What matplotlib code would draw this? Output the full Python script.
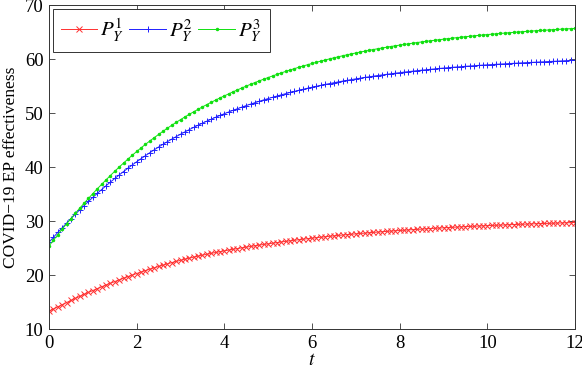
import numpy as np
import matplotlib
matplotlib.use("Agg")
import matplotlib.pyplot as plt

# time grid, step 0.1
t = np.linspace(0, 12, 121)

p_y1 = [
    13.30, 13.72, 14.13, 14.53, 14.92, 15.31, 15.69, 16.07, 16.44, 16.80,
    17.15, 17.50, 17.84, 18.17, 18.49, 18.81, 19.12, 19.43, 19.73, 20.02,
    20.30, 20.58, 20.85, 21.11, 21.36, 21.61, 21.85, 22.09, 22.32, 22.54,
    22.75, 22.95, 23.15, 23.34, 23.52, 23.70, 23.87, 24.04, 24.20, 24.35,
    24.50, 24.65, 24.79, 24.93, 25.06, 25.19, 25.32, 25.45, 25.57, 25.69,
    25.80, 25.92, 26.03, 26.15, 26.25, 26.36, 26.46, 26.57, 26.66, 26.76,
    26.85, 26.94, 27.03, 27.11, 27.20, 27.28, 27.36, 27.43, 27.51, 27.58,
    27.65, 27.72, 27.78, 27.86, 27.92, 27.98, 28.04, 28.10, 28.16, 28.22,
    28.27, 28.32, 28.38, 28.43, 28.48, 28.53, 28.58, 28.63, 28.68, 28.72,
    28.77, 28.81, 28.86, 28.90, 28.94, 28.98, 29.02, 29.06, 29.10, 29.13,
    29.17, 29.20, 29.24, 29.27, 29.30, 29.34, 29.37, 29.40, 29.43, 29.46,
    29.49, 29.52, 29.54, 29.57, 29.59, 29.62, 29.65, 29.67, 29.70, 29.72,
    29.75,
]

p_y2 = [
    26.10, 27.01, 27.90, 28.77, 29.62, 30.46, 31.28, 32.09, 32.88, 33.65,
    34.40, 35.13, 35.85, 36.55, 37.23, 37.90, 38.55, 39.19, 39.81, 40.41,
    41.00, 41.57, 42.13, 42.68, 43.21, 43.73, 44.23, 44.72, 45.19, 45.65,
    46.10, 46.53, 46.95, 47.36, 47.76, 48.14, 48.52, 48.88, 49.23, 49.57,
    49.90, 50.22, 50.53, 50.83, 51.12, 51.41, 51.68, 51.95, 52.21, 52.46,
    52.70, 52.94, 53.17, 53.40, 53.61, 53.83, 54.03, 54.24, 54.43, 54.62,
    54.80, 54.98, 55.15, 55.32, 55.48, 55.64, 55.79, 55.94, 56.08, 56.22,
    56.35, 56.48, 56.61, 56.73, 56.85, 56.97, 57.08, 57.19, 57.30, 57.40,
    57.50, 57.60, 57.69, 57.78, 57.87, 57.96, 58.04, 58.12, 58.20, 58.28,
    58.35, 58.42, 58.49, 58.55, 58.61, 58.68, 58.73, 58.79, 58.85, 58.90,
    58.95, 59.00, 59.05, 59.10, 59.14, 59.19, 59.23, 59.28, 59.32, 59.36,
    59.40, 59.44, 59.48, 59.52, 59.56, 59.60, 59.64, 59.68, 59.72, 59.76,
    59.80,
]

p_y3 = [
    25.40, 26.46, 27.49, 28.51, 29.51, 30.49, 31.45, 32.39, 33.31, 34.22,
    35.10, 35.97, 36.81, 37.64, 38.45, 39.24, 40.01, 40.76, 41.49, 42.21,
    42.90, 43.57, 44.22, 44.85, 45.46, 46.06, 46.64, 47.21, 47.76, 48.29,
    48.80, 49.30, 49.78, 50.25, 50.71, 51.16, 51.59, 52.01, 52.42, 52.82,
    53.20, 53.58, 53.95, 54.31, 54.67, 55.01, 55.35, 55.67, 55.99, 56.30,
    56.60, 56.89, 57.18, 57.46, 57.73, 57.99, 58.25, 58.50, 58.74, 58.97,
    59.20, 59.42, 59.64, 59.85, 60.05, 60.25, 60.44, 60.63, 60.81, 60.98,
    61.15, 61.32, 61.47, 61.63, 61.78, 61.93, 62.07, 62.21, 62.34, 62.48,
    62.60, 62.72, 62.84, 62.96, 63.08, 63.19, 63.30, 63.40, 63.50, 63.60,
    63.70, 63.80, 63.89, 63.98, 64.07, 64.16, 64.24, 64.32, 64.40, 64.48,
    64.55, 64.63, 64.69, 64.77, 64.83, 64.90, 64.96, 65.03, 65.08, 65.15,
    65.20, 65.26, 65.31, 65.36, 65.41, 65.46, 65.51, 65.56, 65.61, 65.65,
    65.70,
]

labels = [r"$P_Y^1$", r"$P_Y^2$", r"$P_Y^3$"]
x_ticks = [0, 2, 4, 6, 8, 10, 12]
y_ticks = [10, 20, 30, 40, 50, 60, 70]

plt.rcParams["font.family"] = ["Liberation Serif", "DejaVu Serif"]
plt.rcParams["mathtext.fontset"] = "stix"

fig = plt.figure(figsize=(5.82, 3.69), dpi=100)
ax = fig.add_axes([0.0842, 0.108, 0.9038, 0.878])

ax.plot(t, p_y1, color="#ff3030", lw=0.7, marker="x", ms=3.8, mew=0.7,
        label=labels[0])
ax.plot(t, p_y2, color="#2020ff", lw=0.7, marker="+", ms=4.5, mew=0.7,
        label=labels[1])
ax.plot(t, p_y3, color="#10e010", lw=0.7, marker=".", ms=3.0,
        label=labels[2])

ax.set_xlim(0, 12)
ax.set_ylim(10, 70)
ax.set_xticks(x_ticks)
ax.set_yticks(y_ticks)
ax.tick_params(direction="in", length=4, width=0.6, top=True, right=True,
               labelsize=13.5, pad=4, color="#333333")
for s in ax.spines.values():
    s.set_linewidth(0.7)
    s.set_color("#333333")

ax.set_xlabel(r"$t$", fontsize=14, labelpad=0)
ax.set_ylabel("COVID\u221219 EP effectiveness", fontsize=12.5, labelpad=4)

leg = ax.legend(loc="upper left", ncol=3, fontsize=15, fancybox=False,
                edgecolor="#333333", framealpha=1, borderaxespad=0.18,
                handlelength=1.75, handletextpad=0.15, columnspacing=0.25,
                borderpad=0.38)
leg.get_frame().set_linewidth(0.7)

fig.savefig("out.png", dpi=100)
